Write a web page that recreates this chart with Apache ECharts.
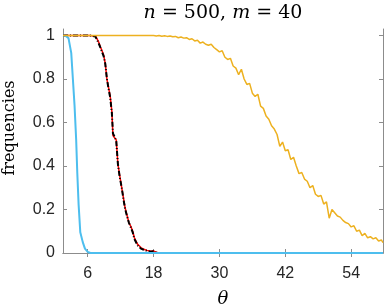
<!DOCTYPE html>
<html><head><meta charset="utf-8">
<script src="https://cdn.jsdelivr.net/npm/echarts@6/dist/echarts.min.js"></script>
<style>html,body{margin:0;padding:0;background:#fff}#c{width:385px;height:307px}</style>
</head><body><div id="c"></div>
<script>
const xTicks = [6, 18, 30, 42, 54];
const yTicks = [0, 0.2, 0.4, 0.6, 0.8, 1];
const blueData = [[1.5,1],[2.0,0.998],[2.5,0.988],[3.0,0.92],[3.3,0.8],[3.6,0.68],[3.9,0.52],[4.1,0.37],[4.35,0.22],[4.65,0.095],[5.1,0.05],[5.5,0.02],[6.0,0.005],[6.5,0],[59.8,0]];
const redData = [[1.5,1],[6.5,1],[7.5,0.995],[8.0,0.97],[8.3,0.948],[8.6,0.93],[8.9,0.91],[9.0,0.915],[9.2,0.872],[9.5,0.8],[9.8,0.76],[10.1,0.72],[10.4,0.65],[10.6,0.54],[10.9,0.53],[11.2,0.52],[11.5,0.41],[11.8,0.36],[12.2,0.3],[12.5,0.255],[12.8,0.21],[13.2,0.17],[13.5,0.14],[13.9,0.12],[14.2,0.1],[14.5,0.07],[14.8,0.072],[15.1,0.04],[15.4,0.045],[15.7,0.025],[16.2,0.017],[16.8,0.012],[17.5,0.008],[18,0.01],[18.5,0.003],[19,0],[59.8,0]];
const blackData = [[1.5,1],[6.4,1],[7.4,0.995],[7.9,0.97],[8.3,0.945],[8.6,0.925],[8.9,0.905],[9.0,0.91],[9.2,0.87],[9.5,0.8],[9.8,0.755],[10.1,0.715],[10.4,0.645],[10.6,0.55],[10.9,0.535],[11.2,0.515],[11.5,0.41],[11.8,0.355],[12.2,0.3],[12.5,0.25],[12.8,0.205],[13.2,0.165],[13.5,0.14],[13.9,0.115],[14.2,0.095],[14.5,0.065],[14.8,0.07],[15.1,0.035],[15.4,0.04],[15.7,0.02],[16.2,0.015],[16.8,0.01],[17.5,0.006],[18,0.008],[18.5,0.002],[19,0],[59.8,0]];
const orangeData = [[1.5,1],[18,1],[18.5,0.998],[19,1],[19.5,0.997],[20,0.999],[20.5,0.996],[21,0.998],[21.5,0.994],[22,0.996],[22.5,0.99],[23,0.993],[23.5,0.988],[24,0.99],[24.5,0.982],[25,0.985],[25.5,0.975],[26,0.978],[26.5,0.965],[27,0.97],[27.5,0.96],[28,0.955],[28.5,0.96],[29,0.945],[29.5,0.935],[30,0.925],[30.5,0.93],[31,0.9],[31.5,0.89],[32,0.895],[32.5,0.86],[33,0.85],[33.5,0.82],[34,0.845],[34.5,0.8],[35,0.775],[35.5,0.78],[36,0.735],[36.5,0.72],[37,0.73],[37.5,0.675],[38,0.665],[38.5,0.63],[39,0.615],[39.5,0.585],[40,0.57],[40.5,0.545],[41,0.49],[41.5,0.51],[42,0.47],[42.5,0.475],[43,0.43],[43.5,0.44],[44,0.4],[44.5,0.365],[45,0.37],[45.5,0.34],[46,0.33],[46.5,0.3],[47,0.31],[47.5,0.27],[48,0.26],[48.5,0.265],[49,0.225],[49.5,0.235],[50,0.16],[50.5,0.2],[51,0.185],[51.5,0.17],[52,0.165],[52.5,0.15],[53,0.14],[53.5,0.135],[54,0.12],[54.5,0.125],[55,0.1],[55.5,0.105],[56,0.08],[56.5,0.09],[57,0.07],[57.5,0.075],[58,0.065],[58.5,0.07],[59,0.055],[59.5,0.06],[59.8,0.048]];

const chart = echarts.init(document.getElementById('c'), null, {renderer: 'canvas'});
const axisLine = {show: true, lineStyle: {color: '#8c8c8c', width: 1}};
const tick = {show: true, inside: true, length: 4, lineStyle: {color: '#8c8c8c', width: 1}};
const serif = '"DejaVu Serif", "Liberation Serif", serif';
const sans = '"Liberation Sans", Arial, sans-serif';
const XMIN = 1.5, XMAX = 59.8, YMIN = 0, YMAX = 1.03;
function line(data, color, width, type) {
  return {type: 'line', data: data, showSymbol: false, symbol: 'none', animation: false,
    lineStyle: {color: color, width: width, type: type || 'solid'}, z: 2};
}
chart.setOption({
  animation: false,
  grid: {left: 63, right: 2, top: 29, bottom: 54, containLabel: false, outerBoundsMode: 'none'},
  graphic: [{
    type: 'text', x: 223, y: 13,
    style: {
      align: 'center', verticalAlign: 'middle',
      text: '{i|n} = 500, {i|m} = 40',
      fontFamily: serif, fontSize: 19, fill: '#000',
      rich: {i: {fontStyle: 'italic', fontFamily: serif, fontSize: 19}}
    }
  }, {
    type: 'text', x: 10, y: 128, rotation: Math.PI / 2,
    style: {
      align: 'center', verticalAlign: 'middle',
      text: 'frequencies', fontFamily: serif, fontSize: 16, fill: '#000'
    }
  }],
  xAxis: [{
    type: 'value', min: XMIN, max: XMAX, position: 'bottom',
    axisLine: axisLine, axisTick: Object.assign({customValues: xTicks}, tick),
    axisLabel: {customValues: xTicks, fontFamily: sans, fontSize: 16, color: '#262626', margin: 13},
    splitLine: {show: false},
    name: 'θ', nameLocation: 'middle', nameGap: 37,
    nameTextStyle: {fontFamily: serif, fontStyle: 'italic', fontSize: 18, color: '#000'}
  }, {
    type: 'value', min: XMIN, max: XMAX, position: 'top',
    axisLine: axisLine, axisTick: Object.assign({customValues: xTicks}, tick),
    axisLabel: {show: false}, splitLine: {show: false}
  }],
  yAxis: [{
    type: 'value', min: YMIN, max: YMAX, position: 'left',
    axisLine: axisLine, axisTick: Object.assign({customValues: yTicks}, tick),
    axisLabel: {customValues: yTicks, fontFamily: sans, fontSize: 16, color: '#262626', margin: 8},
    splitLine: {show: false}
  }, {
    type: 'value', min: YMIN, max: YMAX, position: 'right',
    axisLine: axisLine, axisTick: Object.assign({customValues: yTicks}, tick),
    axisLabel: {show: false}, splitLine: {show: false}
  }],
  series: [
    line(redData, '#ff0000', 1.5),
    line(blackData, '#000000', 2, [5, 2, 1, 2]),
    line(blueData, '#4dbeee', 2),
    line(orangeData, '#edb120', 1.5)
  ]
});
</script></body></html>
